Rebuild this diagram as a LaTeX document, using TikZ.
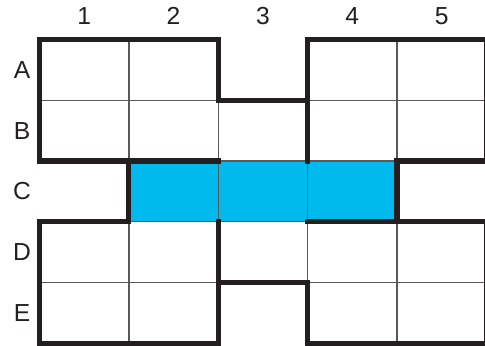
\documentclass[tikz,border=0pt]{standalone}
\usepackage{fontspec}
\setmainfont{Liberation Sans}
\usepackage{tikz}
\definecolor{cellblue}{RGB}{0,186,238}
\definecolor{inkdark}{RGB}{35,31,32}
\tikzset{
  gridline/.style={line width=1pt, draw=black!65},
  wall/.style={line width=4.3pt, draw=inkdark, line cap=rect, line join=miter},
  marked/.style={fill=cellblue},
  headlabel/.style={font=\fontsize{21}{24}\selectfont, text=inkdark, inner sep=0pt}
}
\begin{document}
\begin{tikzpicture}[x=2.676cm, y=-1.818cm]
  \useasboundingbox (-0.4428,-0.6518) rectangle (4.985,5.0413);
  \clip (-0.4428,-0.6518) rectangle (4.985,5.0413);
  % the three blue cells in row C
  \fill[marked] (1,2) rectangle (4,3);
  % thin inner lines
  \foreach \i in {1,...,4} {
    \draw[gridline] (\i,0) -- (\i,5);
    \draw[gridline] (0,\i) -- (5,\i);
  }
  % column and row headings
  \node[headlabel] (col1) at (0.5,-0.388) {1};
  \node[headlabel] (col2) at (1.5,-0.388) {2};
  \node[headlabel] (col3) at (2.5,-0.388) {3};
  \node[headlabel] (col4) at (3.5,-0.388) {4};
  \node[headlabel] (col5) at (4.5,-0.388) {5};
  \node[headlabel] (rowA) at (-0.196,0.5) {A};
  \node[headlabel] (rowB) at (-0.196,1.5) {B};
  \node[headlabel] (rowC) at (-0.196,2.5) {C};
  \node[headlabel] (rowD) at (-0.196,3.5) {D};
  \node[headlabel] (rowE) at (-0.196,4.5) {E};
  % thick walls
  \draw[wall] (2,2) -- (0,2) -- (0,0) -- (2,0) -- (2,1) -- (3,1);
  \draw[wall] (5,2) -- (5,0) -- (3,0) -- (3,2);
  \draw[wall] (0,3) -- (1,3) -- (1,2);
  \draw[wall] (5,2) -- (4,2) -- (4,3);
  \draw[wall] (3,3) -- (5,3) -- (5,5) -- (3,5) -- (3,4) -- (2,4);
  \draw[wall] (0,3) -- (0,5) -- (2,5) -- (2,3);
\end{tikzpicture}
\end{document}
